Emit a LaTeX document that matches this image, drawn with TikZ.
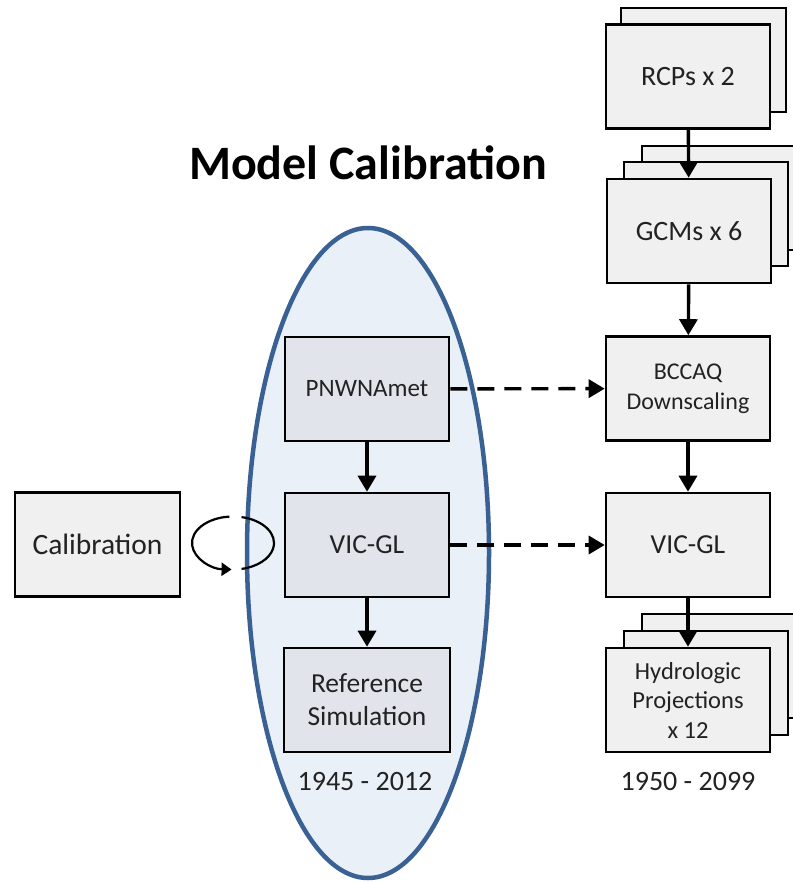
\documentclass[tikz,border=0pt]{standalone}
\usepackage{fontspec}
\setmainfont{Carlito}
\usetikzlibrary{arrows.meta}
\definecolor{boxfill}{HTML}{F0F0F0}
\definecolor{inbox}{HTML}{E1E5EB}
\definecolor{ellfill}{HTML}{EAF0F8}
\definecolor{elldraw}{HTML}{3A6194}
\definecolor{txt}{HTML}{222222}
\tikzset{
  box/.style={draw=black, line width=2.6pt, fill=boxfill, minimum width=164pt, minimum height=104pt, inner sep=0pt, align=center, text=txt, font=\fontsize{25}{30}\selectfont},
  inbx/.style={box, fill=inbox},
  backbox/.style={draw=black, line width=2.6pt, fill=boxfill},
  flow/.style={line width=3.4pt, -{Triangle[width=18pt,length=16pt]}},
  dflow/.style={flow, dash pattern=on 17pt off 10pt},
  yr/.style={text=txt, font=\fontsize{28}{30}\selectfont}
}
\begin{document}
\begin{tikzpicture}[x=1pt,y=-1pt]
\useasboundingbox (0,0) rectangle (792,882);
% ellipse
\draw[fill=ellfill, draw=elldraw, line width=4.5pt] (368,553) ellipse [x radius=121, y radius=325];
% title
\node[text=black, font=\fontsize{48}{52}\selectfont\bfseries] (title) at (368,163) {Model Calibration};
% stacked back boxes
\draw[backbox] (621,8) rectangle (786,112);
\draw[backbox] (642,146) rectangle (806,250);
\draw[backbox] (624,162) rectangle (788,266);
\draw[backbox] (642,614) rectangle (806,718);
\draw[backbox] (624,631) rectangle (788,735);
% right column
\node[box, font=\fontsize{28}{30}\selectfont] (rcp) at (688,76.5) {RCPs x 2};
\node[box, font=\fontsize{28}{30}\selectfont] (gcm) at (689,231) {GCMs x 6};
\node[box, font=\fontsize{24}{30}\selectfont] (bcc) at (688,388.5) {BCCAQ\\Downscaling};
\node[box, font=\fontsize{27.5}{30}\selectfont] (vicr) at (688,545) {VIC-GL};
\node[box, font=\fontsize{24.5}{29.5}\selectfont] (hyd) at (688,700) {Hydrologic\\Projections\\x 12};
\node[yr] (yr2) at (688,782) {1950 - 2099};
% left column
\node[inbx] (pnw) at (367,389) {PNWNAmet};
\node[inbx, font=\fontsize{27.5}{30}\selectfont] (vicl) at (367,545) {VIC-GL};
\node[inbx, minimum width=166pt, font=\fontsize{27.5}{33}\selectfont] (ref) at (367,700) {Reference\\Simulation};
\node[yr] (yr1) at (365,782) {1945 - 2012};
\node[box, minimum width=165pt, font=\fontsize{29.5}{30}\selectfont] (cal) at (97.5,544.5) {Calibration};
% arrows
\draw[flow] (rcp) -- (gcm);
\draw[flow] (gcm) -- (bcc);
\draw[flow] (bcc) -- (vicr);
\draw[flow] (vicr) -- (hyd);
\draw[flow] (pnw) -- (vicl);
\draw[flow] (vicl) -- (ref);
\draw[dflow] (pnw) -- (bcc);
\draw[dflow] (vicl) -- (vicr);
% circular arrow (y axis points down: angle 270 is the top)
\coordinate (cc) at (233,543);
\draw[line width=2.2pt, -{Triangle[width=13pt,length=10pt]}] ([shift={(265:41 and 26.5)}]cc) arc[start angle=265, end angle=92, x radius=41, y radius=26.5];
\draw[line width=2.2pt] ([shift={(-78:41 and 26.5)}]cc) arc[start angle=-78, end angle=78, x radius=41, y radius=26.5];
\end{tikzpicture}
\end{document}
